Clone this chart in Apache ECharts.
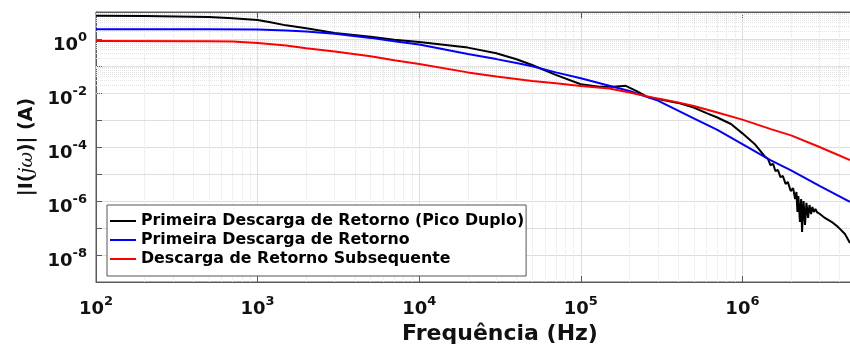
<!DOCTYPE html>
<html><head><meta charset="utf-8">
<script src="https://cdn.jsdelivr.net/npm/echarts@6/dist/echarts.min.js"></script>
<style>html,body{margin:0;padding:0;background:#fff}#c{width:850px;height:348px}</style>
</head><body><div id="c"></div>
<script>
// ---- data ----
const seriesNames = [
  'Primeira Descarga de Retorno (Pico Duplo)',
  'Primeira Descarga de Retorno',
  'Descarga de Retorno Subsequente'
];
const seriesColors = ['#000000', '#0000ff', '#ff0000'];

const freqBlack = [100, 200, 500, 700, 1000, 1200, 1500, 2000, 3000, 5000, 7000, 1e4,
  2e4, 3e4, 4e4, 5e4, 7e4, 1e5, 1.3e5, 1.6e5, 1.9e5, 2.2e5,
  2.6e5, 3e5, 4e5, 5e5, 6e5, 7e5, 8.5e5, 1e6, 1.2e6, 1.38e6,
  1.44e6, 1.49e6, 1.55e6, 1.60e6, 1.66e6, 1.72e6, 1.78e6, 1.85e6, 1.91e6, 1.99e6,
  2.06e6, 2.12e6, 2.16e6, 2.19e6, 2.22e6, 2.27e6, 2.31e6, 2.34e6, 2.39e6, 2.44e6,
  2.49e6, 2.55e6, 2.60e6, 2.66e6, 2.71e6, 2.77e6, 2.83e6, 2.89e6, 3.02e6, 3.24e6,
  3.58e6, 3.90e6, 4.31e6, 4.63e6];
const magBlack = [7.3, 7.1, 6.5, 5.85, 5.06, 4.15, 3.2, 2.5, 1.67, 1.2, 0.93, 0.77,
  0.48, 0.295, 0.178, 0.109, 0.047, 0.021, 0.0171, 0.0172, 0.0185, 0.012,
  0.0071, 0.006, 0.0043, 0.0029, 0.0018, 0.00124, 7.1e-4, 3.2e-4, 1.23e-4, 4.4e-5,
  3.6e-5, 2.15e-5, 2.35e-5, 1.29e-5, 1.4e-5, 7.7e-6, 8.4e-6, 4.3e-6, 5.1e-6, 2.35e-6,
  3.0e-6, 1.18e-6, 2.15e-6, 3.9e-7, 1.53e-6, 1.66e-7, 1.18e-6, 7.1e-8, 1.0e-6, 1.29e-7,
  8.5e-7, 2.35e-7, 7.1e-7, 3.3e-7, 6.0e-7, 3.9e-7, 5.1e-7, 3.9e-7, 3.3e-7, 2.35e-7,
  1.66e-7, 1.1e-7, 6.0e-8, 2.76e-8];

const freqBlue = [100, 500, 1000, 1500, 2000, 3000, 5000, 7000, 1e4, 2e4,
  3e4, 4e4, 5e4, 7e4, 1e5, 1.5e5, 2e5, 3e5, 5e5, 7e5,
  1e6, 1.5e6, 2e6, 3e6, 4.63e6];
const magBlue = [2.29, 2.28, 2.25, 2.06, 1.88, 1.55, 1.1, 0.82, 0.63, 0.28,
  0.18, 0.129, 0.098, 0.058, 0.035, 0.0187, 0.0119, 0.0052, 0.00114, 4.3e-4,
  1.29e-4, 3.2e-5, 1.35e-5, 3.6e-6, 9.3e-7];

const freqRed = [100, 500, 700, 1000, 1500, 2000, 3000, 5000, 7000, 1e4,
  2e4, 3e4, 5e4, 7e4, 1e5, 1.5e5, 2e5, 3e5, 4e5, 5e5,
  7e5, 1e6, 1.5e6, 2e6, 3e6, 4.63e6];
const magRed = [0.84, 0.83, 0.8, 0.71, 0.575, 0.45, 0.344, 0.23, 0.163, 0.118,
  0.058, 0.041, 0.028, 0.023, 0.018, 0.0147, 0.0105, 0.0062, 0.0045, 0.0033,
  0.0019, 0.00103, 4.6e-4, 2.7e-4, 1.0e-4, 3.3e-5];

const xMin = 1e2, xMax = 1e7;
const yMin = 1e-9, yMax = 1e1;
const xTitle = 'Frequência (Hz)';

// ---- build ----
const FONT = 'DejaVu Sans';
const TXT = '#111';
const AXIS = '#5a5a5a';
function pairs(f, m) { return f.map((v, i) => [v, m[i]]); }

const minorLines = [];
for (let d = 2; d < 7; d++) for (let k = 2; k <= 9; k++) minorLines.push({ xAxis: k * Math.pow(10, d) });
for (let d = -9; d < 1; d++) {
  if (d > -9 && Math.abs(d % 2) === 1) minorLines.push({ yAxis: Math.pow(10, d) });
  for (let k = 2; k <= 9; k++) minorLines.push({ yAxis: k * Math.pow(10, d) });
}

function expLabel(onlyEven) {
  return function (v) {
    const e = Math.log10(v);
    const r = Math.round(e);
    if (Math.abs(e - r) > 1e-6) return '';
    if (onlyEven && Math.abs(r % 2) === 1) return '';
    return '{b|10}{s|' + r + '}';
  };
}
const richExp = {
  b: { fontFamily: FONT, fontWeight: 'bold', fontSize: 18, lineHeight: 28, color: TXT },
  s: { fontFamily: FONT, fontWeight: 'bold', fontSize: 13, lineHeight: 13, verticalAlign: 'top', color: TXT }
};

const data = [pairs(freqBlack, magBlack), pairs(freqBlue, magBlue), pairs(freqRed, magRed)];

const chart = echarts.init(document.getElementById('c'), null, { renderer: 'canvas' });
chart.setOption({
  animation: false,
  backgroundColor: '#fff',
  grid: { left: 96, top: 12, right: -54, bottom: 66, show: true, borderColor: AXIS, borderWidth: 1,
    backgroundColor: 'transparent', containLabel: false, outerBoundsMode: 'none' },
  xAxis: [{
    type: 'log', logBase: 10, min: xMin, max: xMax,
    name: xTitle, nameLocation: 'middle', nameGap: 34,
    nameTextStyle: { fontFamily: FONT, fontWeight: 'bold', fontSize: 22, color: TXT },
    axisLine: { show: true, lineStyle: { color: AXIS, width: 1 } },
    axisTick: { show: true, inside: true, length: 6, lineStyle: { color: AXIS } },
    axisLabel: { formatter: expLabel(false), rich: richExp, margin: 13 },
    splitLine: { show: true, lineStyle: { color: '#dedede', width: 1 } },
    minorTick: { show: false }, minorSplitLine: { show: false }
  }, {
    type: 'log', logBase: 10, min: xMin, max: xMax, position: 'top',
    axisLine: { show: true, lineStyle: { color: AXIS, width: 1 } },
    axisTick: { show: true, inside: true, length: 6, lineStyle: { color: AXIS } },
    axisLabel: { show: false }, splitLine: { show: false }
  }],
  yAxis: {
    type: 'log', logBase: 10, min: yMin, max: yMax, splitNumber: 5,
    name: '{n||I(}{m|jω}{n|)| (A)}', nameLocation: 'middle', nameGap: 58, nameRotate: 90,
    nameTextStyle: {
      rich: {
        n: { fontFamily: FONT, fontWeight: 'bold', fontSize: 19, color: TXT },
        m: { fontFamily: 'DejaVu Serif', fontStyle: 'italic', fontWeight: 'normal', fontSize: 19, color: TXT }
      }
    },
    axisLine: { show: true, lineStyle: { color: AXIS, width: 1 } },
    axisTick: { show: true, inside: true, length: 6, lineStyle: { color: AXIS } },
    axisLabel: { formatter: expLabel(true), rich: richExp, margin: 9, padding: [12, 0, 0, 0] },
    splitLine: { show: true, lineStyle: { color: '#dedede', width: 1 } },
    minorTick: { show: false }, minorSplitLine: { show: false }
  },
  legend: {
    data: seriesNames, orient: 'vertical', left: 107, top: 205, zlevel: 2,
    padding: [8, 2, 9, 3], itemGap: 3, itemWidth: 26, itemHeight: 2, itemTextGap: 1,
    icon: 'rect', backgroundColor: '#fff', borderColor: '#555', borderWidth: 1, borderRadius: 0,
    textStyle: { fontFamily: FONT, fontWeight: 'bold', fontSize: 15.8, color: '#000' }
  },
  series: [
    {
      type: 'line', data: [], silent: true, z: 0, zlevel: 0,
      markLine: {
        silent: true, symbol: ['none', 'none'], label: { show: false }, animation: false,
        emphasis: { disabled: true },
        lineStyle: { type: 'dotted', color: '#e4e4e4', width: 1 },
        data: minorLines
      }
    }
  ].concat(seriesNames.map((n, i) => ({
    type: 'line', name: n, data: data[i], showSymbol: false, symbol: 'none',
    lineStyle: { width: 2, color: seriesColors[i] }, itemStyle: { color: seriesColors[i] },
    z: 5, zlevel: 1, clip: true, smooth: false
  })))
});
</script></body></html>
